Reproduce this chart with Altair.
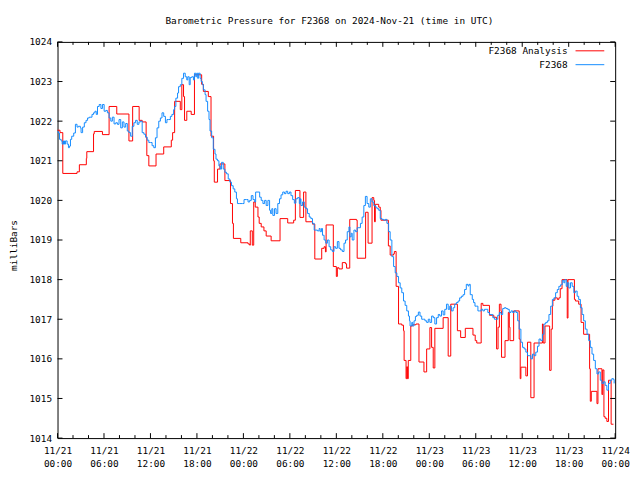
import json
import altair as alt
import pandas as pd

# ---------------- data ----------------
# hours since 2024-11-21 00:00 UTC, pressure in mbar
red_hours = [0.00, 0.32, 0.68, 2.52, 2.82, 3.72, 3.78, 4.65, 4.74, 5.80, 6.66, 7.65, 9.22, 9.70, 10.54, 10.93,
             11.44, 11.53, 11.79, 12.72, 13.71, 14.69, 14.86, 15.12, 15.85, 16.05, 16.27, 16.40, 16.69, 17.26,
             17.68, 18.61, 18.83, 19.47, 19.82, 20.15, 20.24, 20.66, 20.97, 21.61, 22.33, 22.59, 22.71, 23.66,
             24.60, 24.81, 24.89, 25.15, 25.33, 25.53, 25.88, 26.04, 26.30, 26.65, 26.94, 27.58, 28.73, 29.72,
             30.49, 30.71, 31.30, 31.77, 32.07, 32.92, 33.22, 34.11, 34.42, 34.59, 34.68, 35.61, 36.00, 36.13,
             36.34, 36.77, 37.19, 37.32, 37.73, 38.60, 38.69, 39.78, 40.10, 40.61, 40.83, 40.93, 41.03, 41.47,
             41.67, 41.76, 42.72, 42.95, 43.39, 43.49, 43.72, 44.03, 44.45, 44.67, 44.75, 45.00, 45.09, 45.18,
             45.29, 45.61, 45.86, 46.28, 46.67, 47.31, 47.66, 48.08, 48.30, 48.51, 48.72, 49.79, 50.44, 50.77,
             51.63, 52.05, 52.65, 53.64, 53.93, 54.13, 54.70, 54.92, 55.77, 56.33, 56.69, 56.88, 57.05, 57.26,
             57.33, 57.78, 58.20, 58.33, 58.42, 58.89, 59.61, 59.74, 59.83, 60.47, 60.68, 61.11, 61.53, 62.61,
             62.71, 62.94, 63.54, 63.73, 63.89, 63.96, 64.22, 64.53, 64.73, 64.91, 65.14, 65.81, 65.91, 66.74,
             66.87, 67.29, 67.60, 67.93, 68.70, 68.79, 68.92, 69.65, 69.78, 70.29, 70.39, 70.55, 70.71, 70.93,
             71.14, 71.48, 71.78]
red_mbar = [1021.77, 1021.71, 1020.68, 1020.72, 1020.90, 1021.06, 1021.23, 1021.68, 1021.74, 1021.66, 1022.37,
            1022.18, 1021.50, 1022.37, 1022.02, 1021.98, 1021.58, 1021.13, 1020.87, 1021.17, 1021.35, 1021.52,
            1021.71, 1022.50, 1022.29, 1022.92, 1022.62, 1022.02, 1022.25, 1022.17, 1023.17, 1022.93, 1022.75,
            1022.62, 1021.62, 1021.00, 1020.46, 1020.79, 1020.92, 1020.50, 1019.92, 1019.42, 1019.04, 1018.93,
            1018.90, 1018.87, 1019.23, 1018.87, 1019.96, 1019.83, 1019.58, 1019.42, 1019.33, 1019.23, 1019.10,
            1018.98, 1019.54, 1019.43, 1019.50, 1020.25, 1019.57, 1020.21, 1019.46, 1019.40, 1018.52, 1018.79,
            1018.83, 1018.70, 1019.38, 1018.33, 1018.08, 1018.30, 1018.27, 1018.43, 1018.40, 1018.29, 1019.52,
            1019.50, 1018.54, 1019.70, 1018.92, 1020.07, 1020.00, 1019.46, 1019.90, 1019.83, 1019.75, 1019.50,
            1018.85, 1018.62, 1018.65, 1018.71, 1017.83, 1016.88, 1016.85, 1016.71, 1015.96, 1015.50, 1015.80,
            1015.50, 1015.96, 1016.83, 1016.86, 1016.88, 1015.92, 1015.67, 1016.25, 1016.79, 1016.29, 1015.77,
            1016.77, 1017.04, 1016.07, 1017.38, 1016.71, 1016.54, 1016.77, 1016.60, 1016.46, 1016.40, 1017.40,
            1017.35, 1017.10, 1017.05, 1016.25, 1016.80, 1017.38, 1017.20, 1016.04, 1016.46, 1017.17, 1016.80,
            1016.46, 1017.21, 1016.50, 1015.50, 1015.79, 1015.57, 1016.42, 1015.02, 1016.40, 1016.88, 1016.40,
            1016.83, 1015.71, 1016.75, 1017.33, 1017.48, 1017.54, 1017.50, 1017.54, 1017.77, 1018.00, 1017.03,
            1018.00, 1017.50, 1017.46, 1017.38, 1016.92, 1016.62, 1015.75, 1014.93, 1015.18, 1014.87, 1015.75,
            1015.10, 1015.72, 1014.54, 1014.50, 1014.42, 1015.46, 1014.35, 1014.35]

blue_hours = [0.00, 0.13, 0.26, 0.47, 0.60, 0.77, 0.90, 1.02, 1.24, 1.41, 1.54, 1.67, 1.83, 2.09, 2.31, 2.52,
              2.69, 2.95, 3.04, 3.24, 3.46, 3.68, 3.88, 4.10, 4.32, 4.45, 4.65, 4.83, 5.00, 5.16, 5.38, 5.60,
              5.80, 6.02, 6.24, 6.44, 6.66, 6.88, 7.08, 7.30, 7.52, 7.73, 7.94, 8.16, 8.37, 8.58, 8.80, 9.01,
              9.22, 9.44, 9.65, 9.86, 10.08, 10.29, 10.51, 10.72, 10.93, 11.15, 11.36, 11.57, 11.79, 12.00,
              12.21, 12.43, 12.64, 12.85, 13.07, 13.28, 13.49, 13.71, 13.93, 14.13, 14.35, 14.57, 14.77, 14.99,
              15.12, 15.28, 15.50, 15.63, 15.85, 16.05, 16.27, 16.49, 16.69, 16.82, 17.00, 17.13, 17.33, 17.55,
              17.68, 17.85, 17.97, 18.10, 18.19, 18.41, 18.54, 18.70, 18.83, 19.05, 19.18, 19.38, 19.56, 19.69,
              19.90, 20.11, 20.33, 20.46, 20.66, 20.84, 21.01, 21.18, 21.40, 21.61, 21.82, 22.04, 22.25, 22.46,
              22.68, 22.89, 23.10, 23.23, 23.53, 23.87, 24.08, 24.38, 24.60, 24.81, 25.02, 25.24, 25.46, 25.58,
              25.88, 26.10, 26.30, 26.52, 26.74, 26.94, 27.16, 27.38, 27.51, 27.67, 27.80, 28.02, 28.22, 28.44,
              28.66, 28.86, 29.08, 29.30, 29.50, 29.72, 29.94, 30.14, 30.36, 30.58, 30.78, 31.00, 31.22, 31.35,
              31.43, 31.64, 31.86, 32.07, 32.28, 32.50, 32.71, 32.92, 33.14, 33.35, 33.56, 33.78, 33.91, 34.08,
              34.21, 34.42, 34.63, 34.85, 35.06, 35.27, 35.49, 35.70, 35.91, 36.13, 36.34, 36.55, 36.77, 36.99,
              37.19, 37.41, 37.63, 37.75, 37.92, 38.05, 38.27, 38.47, 38.69, 38.91, 39.11, 39.33, 39.55, 39.75,
              39.97, 40.19, 40.39, 40.61, 40.83, 41.03, 41.25, 41.47, 41.67, 41.89, 42.11, 42.31, 42.53, 42.75,
              42.95, 43.17, 43.39, 43.60, 43.81, 44.03, 44.24, 44.45, 44.67, 44.88, 45.09, 45.31, 45.44, 45.52,
              45.74, 45.86, 46.03, 46.21, 46.38, 46.59, 46.80, 47.02, 47.23, 47.44, 47.66, 47.87, 48.08, 48.30,
              48.51, 48.72, 48.94, 49.16, 49.36, 49.58, 49.79, 50.00, 50.22, 50.44, 50.64, 50.86, 51.08, 51.28,
              51.50, 51.72, 51.92, 52.14, 52.36, 52.56, 52.78, 53.00, 53.13, 53.29, 53.55, 53.72, 53.90, 54.06,
              54.28, 54.48, 54.70, 54.92, 55.12, 55.34, 55.56, 55.77, 55.98, 56.20, 56.41, 56.62, 56.84, 57.05,
              57.26, 57.48, 57.69, 57.91, 58.12, 58.33, 58.55, 58.76, 58.97, 59.19, 59.41, 59.61, 59.83, 60.04,
              60.25, 60.47, 60.68, 60.89, 61.11, 61.33, 61.53, 61.75, 61.97, 62.17, 62.39, 62.61, 62.81, 63.03,
              63.25, 63.45, 63.67, 63.89, 64.09, 64.31, 64.53, 64.73, 64.95, 65.17, 65.37, 65.50, 65.68, 65.81,
              66.01, 66.23, 66.45, 66.66, 66.87, 67.09, 67.29, 67.51, 67.73, 67.93, 68.15, 68.37, 68.58, 68.79,
              69.01, 69.22, 69.44, 69.65, 69.86, 70.08, 70.29, 70.50, 70.71, 70.93, 71.14, 71.36, 71.57, 71.78,
              71.87]
blue_mbar = [1021.73, 1021.70, 1021.54, 1021.50, 1021.42, 1021.50, 1021.42, 1021.50, 1021.42, 1021.33, 1021.37,
             1021.54, 1021.62, 1021.70, 1021.92, 1021.85, 1021.87, 1021.83, 1021.71, 1021.85, 1021.96, 1022.02,
             1022.08, 1022.10, 1022.10, 1022.17, 1022.21, 1022.25, 1022.17, 1022.37, 1022.42, 1022.32, 1022.42,
             1022.25, 1022.27, 1022.21, 1022.08, 1022.00, 1022.10, 1021.93, 1021.96, 1021.92, 1022.04, 1021.83,
             1021.98, 1021.85, 1021.94, 1021.75, 1021.71, 1021.62, 1021.87, 1021.96, 1022.02, 1021.92, 1021.98,
             1022.00, 1021.71, 1021.67, 1021.60, 1021.52, 1021.46, 1021.46, 1021.38, 1021.33, 1021.58, 1021.83,
             1022.00, 1022.08, 1022.21, 1022.12, 1021.96, 1022.04, 1022.04, 1022.12, 1022.17, 1022.29, 1022.37,
             1022.58, 1022.71, 1022.87, 1022.92, 1023.08, 1023.21, 1023.12, 1023.04, 1023.12, 1022.92, 1023.10,
             1023.12, 1023.04, 1023.21, 1023.12, 1023.21, 1023.08, 1023.21, 1023.08, 1023.00, 1022.92, 1022.79,
             1022.67, 1022.50, 1022.25, 1022.04, 1021.75, 1021.58, 1021.29, 1021.17, 1021.04, 1021.00, 1020.87,
             1020.79, 1020.96, 1020.79, 1020.71, 1020.67, 1020.54, 1020.46, 1020.37, 1020.29, 1020.21, 1020.04,
             1019.92, 1019.92, 1019.92, 1020.02, 1020.02, 1019.96, 1020.00, 1020.12, 1020.02, 1019.96, 1020.21,
             1020.21, 1020.08, 1020.00, 1019.92, 1020.00, 1019.87, 1020.00, 1019.75, 1019.67, 1019.79, 1019.62,
             1019.79, 1019.67, 1019.92, 1020.04, 1020.14, 1020.21, 1020.17, 1020.23, 1020.17, 1020.21, 1020.12,
             1020.02, 1019.93, 1020.04, 1020.07, 1019.92, 1020.04, 1019.87, 1019.96, 1019.83, 1019.79, 1019.67,
             1019.58, 1019.54, 1019.42, 1019.25, 1019.25, 1019.23, 1019.29, 1019.21, 1019.29, 1019.12, 1019.00,
             1018.92, 1019.00, 1018.83, 1018.75, 1018.71, 1018.83, 1018.79, 1018.96, 1018.79, 1018.75, 1018.71,
             1018.92, 1019.00, 1019.21, 1019.33, 1019.08, 1019.17, 1019.00, 1019.25, 1019.21, 1019.31, 1019.31,
             1019.42, 1019.58, 1019.87, 1020.10, 1019.92, 1019.83, 1020.04, 1019.96, 1019.87, 1019.83, 1019.79,
             1019.75, 1019.54, 1019.52, 1019.50, 1019.52, 1019.42, 1019.21, 1019.00, 1018.58, 1018.33, 1018.17,
             1018.08, 1017.92, 1017.79, 1017.67, 1017.46, 1017.35, 1017.21, 1017.08, 1016.96, 1016.83, 1016.92,
             1016.83, 1016.96, 1017.07, 1017.10, 1017.18, 1017.08, 1017.00, 1017.00, 1016.96, 1016.92, 1017.00,
             1016.92, 1017.08, 1017.04, 1016.88, 1017.04, 1017.12, 1017.08, 1017.21, 1017.11, 1017.25, 1017.38,
             1017.25, 1017.33, 1017.21, 1017.29, 1017.38, 1017.42, 1017.46, 1017.54, 1017.58, 1017.62, 1017.75,
             1017.88, 1017.84, 1017.88, 1017.62, 1017.50, 1017.42, 1017.33, 1017.33, 1017.21, 1017.21, 1017.25,
             1017.21, 1017.25, 1017.25, 1017.17, 1017.12, 1017.12, 1017.04, 1017.00, 1017.00, 1017.10, 1017.17,
             1017.12, 1017.27, 1017.29, 1017.27, 1017.25, 1017.17, 1017.21, 1017.17, 1017.21, 1017.17, 1016.96,
             1016.75, 1016.42, 1016.29, 1016.25, 1016.17, 1016.08, 1016.08, 1016.00, 1016.12, 1016.08, 1016.17,
             1016.32, 1016.50, 1016.46, 1016.62, 1016.88, 1016.92, 1016.96, 1017.12, 1017.33, 1017.50, 1017.54,
             1017.67, 1017.75, 1017.83, 1017.87, 1017.98, 1017.92, 1018.00, 1017.83, 1017.92, 1017.79, 1017.92,
             1017.83, 1017.67, 1017.71, 1017.58, 1017.50, 1017.29, 1017.12, 1016.96, 1016.75, 1016.62, 1016.46,
             1016.29, 1016.12, 1015.96, 1015.75, 1015.62, 1015.67, 1015.46, 1015.38, 1015.42, 1015.33, 1015.21,
             1015.38, 1015.46, 1015.50, 1015.48, 1015.38]

series_names = ["F2368 Analysis", "F2368"]
series_colors = ["#ff0000", "#148cff"]

tick_hours = [0, 6, 12, 18, 24, 30, 36, 42, 48, 54, 60, 66, 72]
tick_dates = ["11/21", "11/21", "11/21", "11/21", "11/22", "11/22", "11/22", "11/22",
              "11/23", "11/23", "11/23", "11/23", "11/24"]
tick_times = ["00:00", "06:00", "12:00", "18:00", "00:00", "06:00", "12:00", "18:00",
              "00:00", "06:00", "12:00", "18:00", "00:00"]
minor_hours = [2, 4, 8, 10, 14, 16, 20, 22, 26, 28, 32, 34, 38, 40, 44, 46, 50, 52, 56, 58, 62, 64, 68, 70]
y_ticks = [1014, 1015, 1016, 1017, 1018, 1019, 1020, 1021, 1022, 1023, 1024]

title_text = "Barometric Pressure for F2368 on 2024-Nov-21 (time in UTC)"
y_title = "milliBars"

# ---------------- chart ----------------
FONT = "DejaVu Sans Mono"
FS = 9.5
W, H = 563, 400

red_df = pd.DataFrame({"hour": red_hours, "mbar": red_mbar})
blue_df = pd.DataFrame({"hour": blue_hours, "mbar": blue_mbar})
major_df = pd.DataFrame({"hour": tick_hours})
minor_df = pd.DataFrame({"hour": minor_hours})
ytick_df = pd.DataFrame({"mbar": y_ticks})

label_pairs = [[d, t] for d, t in zip(tick_dates, tick_times)]
label_expr = json.dumps(label_pairs) + "[round(datum.value / 6)]"

x_scale = alt.Scale(domain=[0, 72], nice=False, zero=False)
y_scale = alt.Scale(domain=[1014, 1024], nice=False, zero=False)

x_axis = alt.Axis(values=tick_hours, labelExpr=label_expr, ticks=False, domain=False, grid=False,
                  labelFont=FONT, labelFontSize=FS, labelColor="black", labelPadding=8,
                  labelLineHeight=13, labelFlush=False, labelOverlap=False, labelBound=False, title=None)
y_axis = alt.Axis(values=y_ticks, format="d", ticks=False, domain=False, grid=False,
                  labelFont=FONT, labelFontSize=FS, labelColor="black", labelPadding=6,
                  labelFlush=False, labelOverlap=False, labelBound=False,
                  title=y_title, titleFont=FONT, titleFontSize=FS, titleFontWeight="normal",
                  titleColor="black", titleAngle=-90, titleX=-44, titleY=205, titleAlign="center",
                  titleBaseline="middle")

X = alt.X("hour:Q", scale=x_scale, axis=x_axis)
Y = alt.Y("mbar:Q", scale=y_scale, axis=y_axis)

red_line = alt.Chart(red_df).mark_line(interpolate="step-after", strokeWidth=1,
                                        color=series_colors[0]).encode(x=X, y=Y)
blue_line = alt.Chart(blue_df).mark_line(interpolate="step-after", strokeWidth=1,
                                          color=series_colors[1]).encode(x=X, y=Y)

tick_color = "black"
bot_major = alt.Chart(major_df).mark_rule(color=tick_color, strokeWidth=1).encode(
    x=X, y=alt.value(H), y2=alt.value(H - 5))
top_major = alt.Chart(major_df).mark_rule(color=tick_color, strokeWidth=1).encode(
    x=X, y=alt.value(0), y2=alt.value(5))
bot_minor = alt.Chart(minor_df).mark_rule(color=tick_color, strokeWidth=1).encode(
    x=X, y=alt.value(H), y2=alt.value(H - 3))
top_minor = alt.Chart(minor_df).mark_rule(color=tick_color, strokeWidth=1).encode(
    x=X, y=alt.value(0), y2=alt.value(3))
left_ticks = alt.Chart(ytick_df).mark_rule(color=tick_color, strokeWidth=1).encode(
    y=Y, x=alt.value(0), x2=alt.value(5))
right_ticks = alt.Chart(ytick_df).mark_rule(color=tick_color, strokeWidth=1).encode(
    y=Y, x=alt.value(W), x2=alt.value(W - 5))

legend_layers = []
for i, (name, col) in enumerate(zip(series_names, series_colors)):
    ly = 9 + 14 * i
    txt = alt.Chart(pd.DataFrame({"label": [name]})).mark_text(
        font=FONT, fontSize=FS, color="black", align="right", baseline="middle").encode(
        text="label:N", x=alt.value(515), y=alt.value(ly))
    seg = alt.Chart(pd.DataFrame({"label": [name]})).mark_rule(color=col, strokeWidth=1).encode(
        x=alt.value(523), x2=alt.value(552), y=alt.value(ly))
    legend_layers += [txt, seg]

chart = alt.layer(
    red_line, blue_line, bot_major, top_major, bot_minor, top_minor, left_ticks, right_ticks,
    *legend_layers
).properties(
    width=W, height=H,
    title=alt.TitleParams(title_text, font=FONT, fontSize=FS, fontWeight="normal", color="black",
                          anchor="middle", dx=-7, offset=12),
    autosize=alt.AutoSizeParams(type="none"),
    padding={"left": 50, "top": 32, "right": 17, "bottom": 32},
    background="white",
).configure_view(stroke="black", strokeWidth=1)

chart.save("out.html", embed_options={"renderer": "svg", "actions": False})
